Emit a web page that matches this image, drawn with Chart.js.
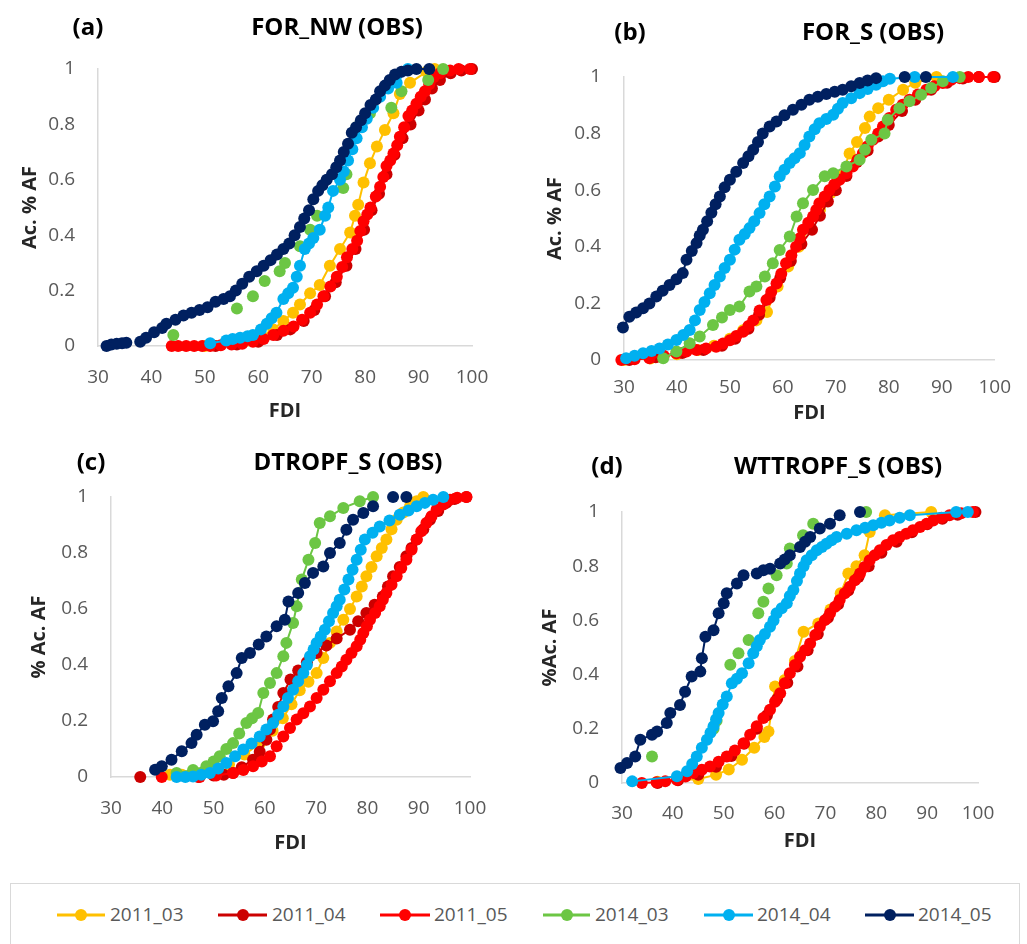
<!DOCTYPE html>
<html>
<head>
<meta charset="utf-8">
<script src="https://cdn.jsdelivr.net/npm/chart.js@4.4.1/dist/chart.umd.min.js"></script>
<style>
  html, body { margin: 0; padding: 0; background: #ffffff; }
  body { width: 1027px; height: 944px; position: relative; overflow: hidden; font-family: "Open Sans", sans-serif; }
  canvas { position: absolute; }
  .ttl { position: absolute; transform: translate(-50%, -50%); font-weight: 700; font-size: 24px; color: #000; white-space: nowrap; }
  .legbox { position: absolute; left: 10px; top: 883px; width: 1010px; height: 90px; border: 1.5px solid #d9d9d9; box-sizing: border-box; }
  .legline { position: absolute; height: 3px; transform: translateY(-50%); }
  .legdot { position: absolute; width: 12px; height: 12px; border-radius: 50%; transform: translate(-50%, -50%); }
  .legtxt { position: absolute; transform: translateY(-50%); font-size: 19px; color: #595959; white-space: nowrap; }
</style>
</head>
<body>
<canvas id="cA" width="510" height="430" style="left:0px;top:0px;"></canvas>
<canvas id="cB" width="517" height="430" style="left:510px;top:0px;"></canvas>
<canvas id="cC" width="510" height="430" style="left:0px;top:430px;"></canvas>
<canvas id="cD" width="517" height="430" style="left:510px;top:430px;"></canvas>

<div class="ttl" style="left:88px;top:25px;">(a)</div>
<div class="ttl" style="left:337px;top:25px;">FOR_NW (OBS)</div>
<div class="ttl" style="left:630px;top:30px;">(b)</div>
<div class="ttl" style="left:873px;top:30px;">FOR_S (OBS)</div>
<div class="ttl" style="left:91px;top:460px;">(c)</div>
<div class="ttl" style="left:348px;top:460px;">DTROPF_S (OBS)</div>
<div class="ttl" style="left:607px;top:464px;">(d)</div>
<div class="ttl" style="left:838px;top:464px;">WTTROPF_S (OBS)</div>

<div class="legbox"></div>
<div id="legend"></div>

<script>
// ---------- shared definitions ----------
const seriesNames = ['2011_03', '2011_04', '2011_05', '2014_03', '2014_04', '2014_05'];
const seriesColors = ['#FFC000', '#CC0000', '#FF0000', '#6CC644', '#00B0F0', '#002060'];
const xTicks = [30, 40, 50, 60, 70, 80, 90, 100];
const xTickLabels = ['30', '40', '50', '60', '70', '80', '90', '100'];
const yTicks = [0, 0.2, 0.4, 0.6, 0.8, 1];
const yTickLabels = ['0', '0.2', '0.4', '0.6', '0.8', '1'];
const panelTitles = ['FOR_NW (OBS)', 'FOR_S (OBS)', 'DTROPF_S (OBS)', 'WTTROPF_S (OBS)'];
const yAxisTitles = ['Ac. % AF', 'Ac. % AF', '% Ac. AF', '%Ac. AF'];
const xAxisTitle = 'FDI';
// null = break in the plotted line (no segment drawn across it)

// ---------- panel (a) FOR_NW ----------
const A_2011_03_FDI = [50, 55, 58, 60.3, 62.8, 64.7, 66.5, 67.8, 69.7, 71.5, 73.4, 75.3, 77.2, 78.1, 78.7, 79.7, 80.9, 82.2, 83.7, 85.3, 86.5, 88.4, 91.5, 93];
const A_2011_03_AF  = [0, 0.01, 0.02, 0.03, 0.06, 0.09, 0.12, 0.15, 0.19, 0.22, 0.29, 0.35, 0.41, 0.47, 0.51, 0.59, 0.66, 0.72, 0.78, 0.84, 0.91, 0.95, 0.99, 1.0];
const A_2011_04_FDI = [52, 56, 60, 63.5, 66, 68.5, 70.5, 72.5, 74.5, 76.5, 78.2, 79.8, 81.2, 82.6, 84, 85.5, 87, 88.5, 90, 91.2, 92.5, 94, 96, 98, 100];
const A_2011_04_AF  = [0, 0.005, 0.015, 0.04, 0.06, 0.09, 0.13, 0.18, 0.23, 0.29, 0.35, 0.42, 0.49, 0.55, 0.62, 0.69, 0.75, 0.8, 0.85, 0.89, 0.93, 0.96, 0.985, 0.995, 1];
const A_2011_05_FDI = [43.8, 45, 46.5, 48, 49.5, 51, 53, 55, 57, 59, 61, 62.8, 64.7, 66.6, 68.2, 69.7, 71, 72.2, 73.5, 74.7, 75.7, 76.6, 77.6, 78.5, 79.1, 79.7, 80.4, 81, 82, 82.8, 83.4, 84, 84.7, 85.3, 86, 86.5, 87.3, 88.1, 88.8, 89.6, 90.4, 91.2, 92, 92.8, 94, 95.9, 97.5, 99.6];
const A_2011_05_AF  = [0, 0, 0, 0, 0, 0, 0.003, 0.005, 0.008, 0.015, 0.025, 0.04, 0.055, 0.07, 0.095, 0.12, 0.15, 0.18, 0.215, 0.25, 0.285, 0.32, 0.35, 0.38, 0.415, 0.45, 0.475, 0.5, 0.54, 0.575, 0.61, 0.65, 0.67, 0.695, 0.725, 0.755, 0.79, 0.83, 0.85, 0.875, 0.9, 0.92, 0.945, 0.97, 0.985, 0.995, 1, 1];
const A_2014_03_FDI = [44.1, 56, 59, 61.2, 64, 65, 67.8, 69.7, 71, 75.9, 76.5, 78.4, 80.9, 84.9, 86.8, 91.8, 94.6];
const A_2014_03_AF  = [0.04, 0.135, 0.18, 0.235, 0.27, 0.30, 0.36, 0.42, 0.47, 0.57, 0.62, 0.79, 0.84, 0.86, 0.92, 0.96, 1.0];
const A_2014_04_FDI = [51, 54, 55.2, 56.6, 58, 59, 60.5, 61.6, 62.5, 63.4, 64.7, 65.6, 66.5, 67.2, 67.8, 68.7, 69.5, 70.3, 71.5, 72.5, 73.1, 74, 75.3, 76, 76.8, 77.6, 78.4, 79.4, 80.3, 81.5, 82.8, 84.3, 85.9, 88];
const A_2014_04_AF  = [0.01, 0.02, 0.025, 0.03, 0.035, 0.04, 0.06, 0.08, 0.1, 0.12, 0.17, 0.19, 0.21, 0.25, 0.29, 0.35, 0.37, 0.39, 0.42, 0.47, 0.5, 0.56, 0.6, 0.63, 0.67, 0.71, 0.75, 0.79, 0.82, 0.86, 0.9, 0.93, 0.95, 1.0];
const A_2014_05_FDI = [31.6, 32.5, 33.5, 34.5, 35.3, null, 37.9, 39, 40.5, 42, 42.8, 44.5, 46, 47.5, 49, 50.5, 52, 53.5, 54.7, 55.8, 57, 58.3, 59.7, 61, 62.3, 63.5, 64.7, 65.8, 66.8, 67.8, 68.6, 69.5, 70.3, 71.2, 72, 72.8, 73.8, 74.6, 75.3, 76, 76.8, 77.5, 78.3, 79.2, 80, 81, 82, 82.8, 83.7, 84.6, 85.6, 86.8, 88, 89.6, 92];
const A_2014_05_AF  = [0, 0.005, 0.008, 0.01, 0.012, null, 0.015, 0.03, 0.05, 0.065, 0.08, 0.095, 0.11, 0.12, 0.13, 0.14, 0.16, 0.17, 0.18, 0.2, 0.225, 0.25, 0.27, 0.29, 0.31, 0.33, 0.35, 0.37, 0.40, 0.43, 0.46, 0.49, 0.53, 0.56, 0.58, 0.6, 0.62, 0.645, 0.67, 0.70, 0.73, 0.77, 0.79, 0.815, 0.84, 0.87, 0.89, 0.92, 0.94, 0.96, 0.98, 0.99, 0.995, 1.0, 1.0];

// ---------- panel (b) FOR_S ----------
const B_2011_03_FDI = [30, 35, 40, 44, 47, 50, 52.5, 55, 57, 59, 61, 63, 65, 67, 69, 71, 72.6, 74, 75.5, 76.4, 78, 80, 82.7, 85, 89];
const B_2011_03_AF  = [0, 0.005, 0.02, 0.035, 0.05, 0.075, 0.105, 0.14, 0.17, 0.26, 0.33, 0.4, 0.47, 0.53, 0.59, 0.65, 0.73, 0.77, 0.82, 0.86, 0.89, 0.92, 0.955, 0.98, 1.0];
const B_2011_04_FDI = [31, 36, 41, 45, 48.5, 51, 53.5, 55.5, 57.5, 59.5, 61.5, 63.5, 65.5, 67, 68.5, 70, 72, 74, 76, 78, 80, 82.5, 85, 88, 91, 94, 97, 100];
const B_2011_04_AF  = [0, 0.01, 0.025, 0.035, 0.05, 0.075, 0.11, 0.16, 0.22, 0.29, 0.35, 0.41, 0.46, 0.51, 0.56, 0.6, 0.65, 0.7, 0.74, 0.79, 0.83, 0.88, 0.92, 0.955, 0.98, 0.995, 1, 1];
const B_2011_05_FDI = [29.5, 32, 34.8, 37.5, 39.9, 41.8, 43.7, 45.5, 47.4, 48.7, 50, 51.2, 52.5, 53.5, 54.4, 55.6, 56.9, 57.8, 58.8, 59.7, 60.6, 61.6, 62.5, 63.2, 63.8, 64.8, 65.7, 66.3, 66.9, 67.9, 68.8, 69.7, 70.7, 72, 73.2, 74.1, 75.1, 76, 77, 78, 78.9, 80.1, 81.4, 82.6, 83.9, 85.5, 87.1, 88.6, 90.2, 91.8, 93.4, 95, 97, 99.7];
const B_2011_05_AF  = [0, 0.003, 0.006, 0.015, 0.024, 0.03, 0.035, 0.041, 0.047, 0.058, 0.07, 0.085, 0.1, 0.12, 0.14, 0.175, 0.212, 0.24, 0.27, 0.305, 0.342, 0.37, 0.40, 0.43, 0.46, 0.485, 0.507, 0.53, 0.554, 0.578, 0.601, 0.62, 0.637, 0.66, 0.684, 0.708, 0.731, 0.755, 0.778, 0.80, 0.825, 0.855, 0.884, 0.902, 0.92, 0.938, 0.955, 0.967, 0.979, 0.99, 0.996, 1, 1, 1];
const B_2014_03_FDI = [37.4, 39.9, 42.4, 44.3, 46.8, 48.5, 50, 51.8, 53.7, 55, 56.6, 58.1, 59.4, 61.3, 62.6, 63.8, 65.7, 67.9, 69.5, 72, 74.5, 75.5, 76.7, 79.2, 79.8, 82, 83.9, 86.1, 88, 90.2, 93.4];
const B_2014_03_AF  = [0.006, 0.03, 0.059, 0.083, 0.124, 0.15, 0.177, 0.189, 0.242, 0.26, 0.295, 0.342, 0.389, 0.436, 0.507, 0.554, 0.601, 0.649, 0.66, 0.684, 0.708, 0.743, 0.778, 0.80, 0.849, 0.89, 0.914, 0.937, 0.961, 0.985, 1.0];
const B_2014_04_FDI = [30.4, 32, 33.6, 35.2, 36.7, 38.3, 39.9, 41.2, 42.4, 43.4, 44.3, 45.2, 46.2, 47.1, 48.1, 49, 50, 50.9, 51.8, 52.8, 53.7, 54.6, 55.6, 56.5, 57.5, 58.5, 59.4, 60.3, 61.3, 62.2, 63.2, 64.1, 65, 66, 66.9, 68.2, 69.5, 70.4, 71.3, 72.9, 74.5, 76, 77.6, 78.9, 80.2, 84.9, 92.1];
const B_2014_04_AF  = [0.006, 0.015, 0.024, 0.032, 0.041, 0.055, 0.071, 0.088, 0.106, 0.14, 0.177, 0.205, 0.236, 0.265, 0.295, 0.325, 0.354, 0.39, 0.425, 0.445, 0.466, 0.49, 0.519, 0.55, 0.578, 0.613, 0.649, 0.672, 0.696, 0.713, 0.731, 0.76, 0.79, 0.815, 0.837, 0.852, 0.867, 0.888, 0.908, 0.925, 0.943, 0.958, 0.973, 0.985, 0.994, 1.0, 1.0];
const B_2014_05_FDI = [29.8, 31, 32.3, 33.6, 34.8, 36.1, 37.3, 38.6, 39.9, 41.1, 41.8, 42.8, 43.7, 44.3, 44.9, 45.7, 46.5, 47.3, 48.1, 49, 50, 51.2, 52.5, 53.5, 54.4, 55.3, 56.2, 57.5, 58.8, 60.3, 61.9, 63.5, 65, 66.6, 68.2, 69.8, 71.3, 72.9, 74.5, 76, 77.6, null, 83, null, 87];
const B_2014_05_AF  = [0.115, 0.153, 0.168, 0.183, 0.2, 0.224, 0.245, 0.265, 0.285, 0.307, 0.354, 0.385, 0.413, 0.44, 0.46, 0.49, 0.52, 0.55, 0.578, 0.61, 0.637, 0.665, 0.696, 0.72, 0.743, 0.77, 0.80, 0.825, 0.843, 0.865, 0.884, 0.902, 0.92, 0.93, 0.94, 0.948, 0.955, 0.967, 0.979, 0.988, 0.996, null, 1.0, null, 1.0];

// ---------- panel (c) DTROPF_S ----------
const C_2011_03_FDI = [41.5, 43.8, 47, 50, 53, 56, 59, 61.5, 63.5, 65.2, 66.8, 68.5, 70.1, 71.4, 72.7, 74, 75.3, 76.6, 77.9, 78.9, 79.8, 80.8, 81.8, 82.8, 83.7, 84.7, 85.7, 87, 88.3, 89.6, 90.9];
const C_2011_03_AF  = [0.008, 0.008, 0.012, 0.02, 0.045, 0.08, 0.12, 0.165, 0.21, 0.26, 0.31, 0.34, 0.371, 0.425, 0.479, 0.52, 0.562, 0.6, 0.645, 0.68, 0.717, 0.75, 0.788, 0.818, 0.848, 0.885, 0.919, 0.945, 0.967, 0.985, 1.0];
const C_2011_04_FDI = [35.7, null, 47, 50, 52, 53.8, 55.5, 57.7, 59, 60.3, 61, 61.6, 62.6, 63.6, 65, 66.5, 68.2, 70.1, 72, 74, 76.6, 78.2, 79.8, 81.4, 83, 84, 85, 86.3, 87.6, 88.6, 89.6, 90.9, 92.2, 93.8, 95.4, 97, 99.3];
const C_2011_04_AF  = [0, null, 0, 0.005, 0.008, 0.014, 0.035, 0.062, 0.09, 0.133, 0.17, 0.205, 0.25, 0.3, 0.348, 0.38, 0.41, 0.443, 0.47, 0.495, 0.526, 0.556, 0.586, 0.615, 0.645, 0.68, 0.717, 0.75, 0.788, 0.818, 0.848, 0.885, 0.919, 0.95, 0.979, 0.993, 1.0];
const C_2011_05_FDI = [39.9, null, 47.3, 50.5, 53.8, 55.8, 57.7, 59.4, 61, 62.3, 63.6, 64.9, 66.2, 67.5, 68.8, 70.1, 71.4, 72.7, 74, 75, 75.9, 76.9, 77.9, 78.6, 79.2, 79.9, 80.5, 81.5, 82.4, 83, 83.7, 84.7, 85.7, 86.6, 87.6, 88.6, 89.6, 90.5, 91.5, 92.5, 93.5, 94.8, 96.1, 97.5, 99.3];
const C_2011_05_AF  = [0, null, 0, 0.005, 0.014, 0.025, 0.038, 0.055, 0.074, 0.11, 0.145, 0.175, 0.205, 0.228, 0.252, 0.282, 0.312, 0.342, 0.371, 0.395, 0.419, 0.443, 0.467, 0.49, 0.514, 0.538, 0.562, 0.586, 0.61, 0.633, 0.657, 0.687, 0.717, 0.746, 0.776, 0.812, 0.848, 0.878, 0.907, 0.931, 0.955, 0.973, 0.99, 0.997, 1.0];
const C_2014_03_FDI = [42.8, 46, 48.6, 50, 51.2, 52.5, 53.8, 55, 56.4, 57.5, 58.7, 59.7, 61, 62.3, 63.6, 64.2, 65.5, 66.2, 67.2, 68.5, 69.8, 70.7, 72.7, 75.3, 78.5, 81.1];
const C_2014_03_AF  = [0.014, 0.025, 0.038, 0.055, 0.074, 0.1, 0.121, 0.155, 0.193, 0.21, 0.229, 0.30, 0.336, 0.371, 0.431, 0.479, 0.55, 0.61, 0.705, 0.776, 0.836, 0.907, 0.931, 0.961, 0.985, 1.0];
const C_2014_04_FDI = [42.8, 44.5, 46, 47.6, 49.3, 50.9, 52.5, 54.2, 55.8, 57.4, 59, 60.3, 61.6, 62.6, 63.6, 64.5, 65.5, 66.5, 67.5, 68.2, 68.8, 69.5, 70.1, 70.9, 71.7, 72.5, 73.3, 74, 74.6, 75.5, 76.3, 77.1, 77.9, 78.7, 79.5, 81, 82.4, 84.3, 86.3, 88, 89.6, 91.2, 92.8, 94.8];
const C_2014_04_AF  = [0, 0, 0.002, 0.008, 0.014, 0.03, 0.05, 0.074, 0.098, 0.12, 0.145, 0.17, 0.193, 0.222, 0.252, 0.282, 0.312, 0.342, 0.371, 0.40, 0.431, 0.455, 0.479, 0.502, 0.526, 0.556, 0.586, 0.61, 0.633, 0.67, 0.705, 0.74, 0.776, 0.812, 0.848, 0.872, 0.895, 0.916, 0.937, 0.952, 0.967, 0.979, 0.99, 1.0];
const C_2014_05_FDI = [38.6, 39.9, 41.8, 43.8, 45.7, 46.7, 48.3, 49.9, 50.9, 51.6, 52.9, 54.5, 55.5, 57.1, 58.8, 60.3, 62.3, 63.9, 64.6, 66.5, 67.8, 69.4, 71.4, 72.7, 74.6, 75.9, 77.2, 79.2, 81.1, null, 85, null, 87.6];
const C_2014_05_AF  = [0.026, 0.038, 0.062, 0.092, 0.121, 0.151, 0.187, 0.199, 0.235, 0.282, 0.324, 0.371, 0.425, 0.443, 0.473, 0.502, 0.538, 0.562, 0.627, 0.657, 0.693, 0.729, 0.752, 0.80, 0.836, 0.883, 0.919, 0.943, 0.967, null, 1.0, null, 1.0];

// ---------- panel (d) WTTROPF_S ----------
const D_2011_03_FDI = [37, 45, 48.5, 51, 53.6, 56, 58, 58.8, 60.1, 62, 64, 65.7, 68.6, 71, 73, 74.5, 76.1, 77.7, 78.7, 81.7, 90.8];
const D_2011_03_AF  = [0.005, 0.015, 0.03, 0.05, 0.086, 0.13, 0.17, 0.19, 0.356, 0.38, 0.45, 0.558, 0.589, 0.64, 0.7, 0.773, 0.8, 0.84, 0.926, 0.988, 1.0];
const D_2011_04_FDI = [37, 41, 45, 48.5, 51.5, 54, 56.5, 58.5, 60.5, 62.5, 64.5, 66.5, 68.5, 70.5, 72.5, 74.5, 76.5, 78.5, 81, 84, 87, 90, 93, 96, 99.5];
const D_2011_04_AF  = [0, 0.01, 0.03, 0.06, 0.1, 0.145, 0.2, 0.25, 0.31, 0.37, 0.43, 0.49, 0.55, 0.61, 0.66, 0.71, 0.76, 0.8, 0.85, 0.89, 0.925, 0.955, 0.975, 0.99, 1.0];
const D_2011_05_FDI = [33.9, 36.8, 38.5, 40.8, 42.5, 44, 45.7, 47.3, 49, 50.6, 52.2, 53.9, 55.2, 56.5, 57.8, 59.1, 60.1, 61.1, 62, 63, 64, 65, 66, 67, 68, 68.9, 69.9, 70.9, 71.9, 72.8, 73.8, 74.8, 75.8, 76.8, 77.7, 78.7, 79.7, 80.7, 82, 83.3, 84.6, 85.9, 87.2, 88.6, 89.9, 91.2, 92.8, 94.4, 96.7, 99];
const D_2011_05_AF  = [0, 0.003, 0.006, 0.012, 0.024, 0.037, 0.049, 0.061, 0.078, 0.098, 0.12, 0.147, 0.178, 0.209, 0.24, 0.27, 0.3, 0.331, 0.368, 0.405, 0.435, 0.466, 0.49, 0.515, 0.546, 0.577, 0.601, 0.626, 0.65, 0.675, 0.7, 0.724, 0.748, 0.773, 0.797, 0.822, 0.84, 0.859, 0.878, 0.896, 0.908, 0.92, 0.933, 0.945, 0.957, 0.969, 0.979, 0.988, 0.995, 1.0];
const D_2014_03_FDI = [35.9, 48, 48.6, 51.3, 52.9, 54.9, 56.8, 57.8, 58.8, 60.4, 62.4, 63, 65.6, 67.6, 78];
const D_2014_03_AF  = [0.098, 0.2, 0.23, 0.436, 0.479, 0.528, 0.626, 0.669, 0.718, 0.767, 0.81, 0.865, 0.914, 0.957, 1.0];
const D_2014_04_FDI = [32, 40.8, 42.8, 43.8, 44.7, 45.7, 46.7, 47.4, 48, 48.5, 49, 49.8, 50.6, 51.6, 52.6, 53.6, 54.9, 55.8, 56.5, 57.1, 58.1, 59.1, 59.8, 60.4, 61.4, 62.4, 63, 63.7, 64.4, 65, 65.7, 66.3, 67.3, 68.3, 69.3, 70.2, 71.2, 72.2, 74.2, 76.1, 77.8, 79.4, 81, 82.6, 84.6, 86.6, 95.7, 98];
const D_2014_04_AF  = [0.006, 0.025, 0.043, 0.07, 0.098, 0.13, 0.16, 0.185, 0.209, 0.235, 0.258, 0.29, 0.319, 0.368, 0.385, 0.405, 0.442, 0.479, 0.505, 0.528, 0.55, 0.577, 0.6, 0.626, 0.645, 0.663, 0.69, 0.712, 0.745, 0.773, 0.8, 0.822, 0.84, 0.859, 0.871, 0.883, 0.896, 0.908, 0.92, 0.933, 0.942, 0.951, 0.96, 0.969, 0.979, 0.988, 1.0, 1.0];
const D_2014_05_FDI = [29.7, 31, 32.6, 33.6, 35.9, 36.9, 38.8, 39.5, 41.4, 42.4, 43.7, 45.4, 45.7, 46.4, 48, 49, 50, 50.6, 52.6, 53.9, null, 56.5, 57.8, 59.1, 61.1, 62, 63, 65, 66, 67, 68.9, 70.9, 72.8, null, 76.8];
const D_2014_05_AF  = [0.055, 0.074, 0.098, 0.16, 0.178, 0.19, 0.221, 0.258, 0.288, 0.337, 0.393, 0.411, 0.46, 0.54, 0.564, 0.626, 0.663, 0.70, 0.736, 0.767, null, 0.773, 0.785, 0.791, 0.81, 0.825, 0.84, 0.871, 0.89, 0.908, 0.939, 0.957, 0.988, null, 1.0];

const panelA = [[A_2011_03_FDI, A_2011_03_AF], [A_2011_04_FDI, A_2011_04_AF], [A_2011_05_FDI, A_2011_05_AF], [A_2014_03_FDI, A_2014_03_AF], [A_2014_04_FDI, A_2014_04_AF], [A_2014_05_FDI, A_2014_05_AF]];
const panelB = [[B_2011_03_FDI, B_2011_03_AF], [B_2011_04_FDI, B_2011_04_AF], [B_2011_05_FDI, B_2011_05_AF], [B_2014_03_FDI, B_2014_03_AF], [B_2014_04_FDI, B_2014_04_AF], [B_2014_05_FDI, B_2014_05_AF]];
const panelC = [[C_2011_03_FDI, C_2011_03_AF], [C_2011_04_FDI, C_2011_04_AF], [C_2011_05_FDI, C_2011_05_AF], [C_2014_03_FDI, C_2014_03_AF], [C_2014_04_FDI, C_2014_04_AF], [C_2014_05_FDI, C_2014_05_AF]];
const panelD = [[D_2011_03_FDI, D_2011_03_AF], [D_2011_04_FDI, D_2011_04_AF], [D_2011_05_FDI, D_2011_05_AF], [D_2014_03_FDI, D_2014_03_AF], [D_2014_04_FDI, D_2014_04_AF], [D_2014_05_FDI, D_2014_05_AF]];

// ---------- layout per panel (pixels / styles, not data) ----------
const layouts = [
  { id: 'cA', data: panelA, yTitle: yAxisTitles[0], padTop: 69, padRight: 38, yW: 98,  xH: 84, xTickPad: 20, yTitlePad: 18, xTitlePad: 7, markersOnly: [3] },
  { id: 'cB', data: panelB, yTitle: yAxisTitles[1], padTop: 77, padRight: 32, yW: 114, xH: 70, xTickPad: 16, yTitlePad: 33, xTitlePad: 5, markersOnly: [] },
  { id: 'cC', data: panelC, yTitle: yAxisTitles[2], padTop: 67, padRight: 40, yW: 111, xH: 83, xTickPad: 20, yTitlePad: 27, xTitlePad: 5, markersOnly: [] },
  { id: 'cD', data: panelD, yTitle: yAxisTitles[3], padTop: 82, padRight: 49, yW: 112, xH: 77, xTickPad: 19, yTitlePad: 28, xTitlePad: 7, markersOnly: [3] }
];

const tickFont = { family: "'Open Sans', sans-serif", size: 19 };
const axisTitleFont = { family: "'Open Sans', sans-serif", size: 20, weight: 'bold' };
const axisColor = '#D9D9D9';

function labelFor(values, labels, v) {
  const i = values.findIndex(t => Math.abs(t - v) < 1e-9);
  return i >= 0 ? labels[i] : '';
}

layouts.forEach(cfg => {
  const datasets = cfg.data.map((pair, i) => ({
    label: seriesNames[i],
    data: pair[0].map((x, k) => ({ x: x, y: pair[1][k] })),
    showLine: cfg.markersOnly.indexOf(i) < 0,
    spanGaps: false,
    borderColor: seriesColors[i],
    backgroundColor: seriesColors[i],
    borderWidth: 2,
    pointRadius: 6,
    pointBorderWidth: 0,
    pointHoverRadius: 6,
    clip: false,
    order: seriesNames.length - i
  }));
  new Chart(document.getElementById(cfg.id), {
    type: 'scatter',
    data: { datasets: datasets },
    options: {
      responsive: false,
      animation: false,
      events: [],
      layout: { padding: { top: cfg.padTop, right: cfg.padRight, left: 0, bottom: 0 } },
      plugins: { legend: { display: false }, tooltip: { enabled: false }, title: { display: false } },
      scales: {
        x: {
          type: 'linear', min: 30, max: 100,
          afterBuildTicks: s => { s.ticks = xTicks.map(v => ({ value: v })); },
          afterFit: s => { s.height = cfg.xH; },
          ticks: { font: tickFont, color: '#595959', padding: cfg.xTickPad, maxRotation: 0,
                   callback: v => labelFor(xTicks, xTickLabels, v) },
          grid: { display: false, drawTicks: false },
          border: { display: true, color: axisColor, width: 1.5 },
          title: { display: true, text: xAxisTitle, font: axisTitleFont, color: '#262626', padding: { top: 0, bottom: cfg.xTitlePad } }
        },
        y: {
          type: 'linear', min: 0, max: 1,
          afterBuildTicks: s => { s.ticks = yTicks.map(v => ({ value: v })); },
          afterFit: s => { s.width = cfg.yW; },
          ticks: { font: tickFont, color: '#595959', padding: 23,
                   callback: v => labelFor(yTicks, yTickLabels, v) },
          grid: { display: false, drawTicks: false },
          border: { display: true, color: axisColor, width: 1.5 },
          title: { display: true, text: cfg.yTitle, font: axisTitleFont, color: '#262626', padding: { top: cfg.yTitlePad, bottom: 0 } }
        }
      }
    }
  });
});

// ---------- legend (HTML) ----------
const legendPos = [
  { x1: 57, x2: 105, tx: 110 },
  { x1: 218, x2: 267, tx: 272 },
  { x1: 380, x2: 430, tx: 434 },
  { x1: 543, x2: 590, tx: 595 },
  { x1: 704, x2: 753, tx: 757 },
  { x1: 865, x2: 914, tx: 918 }
];
const legendY = 915;
const leg = document.getElementById('legend');
seriesNames.forEach((name, i) => {
  const p = legendPos[i];
  const line = document.createElement('div');
  line.className = 'legline';
  line.style.left = p.x1 + 'px'; line.style.width = (p.x2 - p.x1) + 'px'; line.style.top = legendY + 'px';
  line.style.background = seriesColors[i];
  const dot = document.createElement('div');
  dot.className = 'legdot';
  dot.style.left = ((p.x1 + p.x2) / 2) + 'px'; dot.style.top = legendY + 'px';
  dot.style.background = seriesColors[i];
  const txt = document.createElement('div');
  txt.className = 'legtxt';
  txt.style.left = p.tx + 'px'; txt.style.top = (legendY - 1) + 'px';
  txt.textContent = name;
  leg.appendChild(line); leg.appendChild(dot); leg.appendChild(txt);
});
</script>
</body>
</html>
